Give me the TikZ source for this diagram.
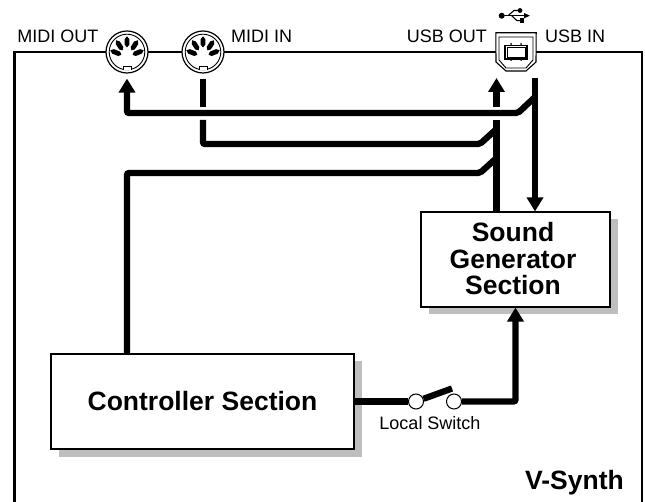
\documentclass[tikz,border=0pt]{standalone}
\usepackage{fontspec}
\setmainfont{Liberation Sans}
\usetikzlibrary{arrows.meta,shadows}
\definecolor{shadowgray}{RGB}{190,190,190}
\tikzset{
  sigline/.style={line width=6.3pt,rounded corners=2pt},
  sigarrow/.style={sigline,-{Triangle[length=14pt,width=16pt]}},
  sectionbox/.style={draw,fill=white,line width=1.1pt,inner sep=0pt,
    drop shadow={shadow xshift=7.5pt,shadow yshift=-7.5pt,fill=shadowgray,opacity=1}},
  boldtext/.style={font=\fontsize{26.5}{26.5}\selectfont\bfseries,align=center,inner sep=0pt},
  jacklabel/.style={font=\fontsize{18}{20}\selectfont,inner sep=0pt},
  switchpoint/.style={circle,draw,fill=white,line width=1pt,minimum size=15pt,inner sep=0pt}
}
% one DIN socket: position, node name
\newcommand{\midijack}[2]{
  \node[circle,draw,fill=white,line width=1.2pt,minimum size=42pt,inner sep=0pt] (#2) at (#1) {};
  \begin{scope}[shift={(#1)}]
    \draw[line width=0.9pt] (0,0) circle (17.8);
    \foreach \a/\ri/\ro in {0/9.7/20.7,33/8/20,-33/8/20,68/6/18,-68/6/18}
      \fill[shift={(0,5)},rotate=\a] (0,-\ri) -- (2.4,-\ri-2.5) -- (2.4,-\ro+3) -- (0,-\ro)
        -- (-2.4,-\ro+3) -- (-2.4,-\ri-2.5) -- cycle;
    \draw[fill=white,line width=0.9pt] (-4,18.4) -- (-4,14) -- (4,14) -- (4,18.4);
  \end{scope}
}
\begin{document}
\begin{tikzpicture}[x=1pt,y=-1pt]
  \useasboundingbox (0,0) rectangle (645,502);
  % outer case
  \draw[line width=2.4pt] (14.5,502) -- (14.5,52) -- (641.7,52) -- (641.7,502);

  % sockets
  \midijack{127,52}{midiout}
  \midijack{203,52}{midiin}
  \node[inner sep=0pt,minimum width=40pt,minimum height=38pt] (usbport) at (516,52) {};
  \draw[fill=white,line width=1.1pt] (usbport.north west) -- (usbport.north east) -- (536,62) -- (526,71)
    -- (506,71) -- (496,62) -- cycle;
  \draw[line width=0.9pt] (499,37) -- (533,37) -- (533,60) -- (526,68) -- (506,68) -- (499,60) -- cycle;
  \draw[line width=1.1pt] (505,45.5) rectangle (527,59);
  \draw[line width=0.7pt] (507,47.5) rectangle (525,57);
  \foreach \x in {511,521} {
    \fill (\x,44) circle (1);
    \fill (\x,60) circle (1);
  }

  % usb symbol
  \fill (501.7,15.7) circle (3);
  \draw[line width=1.1pt,-{Triangle[length=6pt,width=5pt]}] (501.7,15.7) -- (530,15.7);
  \draw[line width=1.1pt] (508,15.7) -- (514,10.5) -- (519,10.5);
  \fill (520,10.5) circle (2.4);
  \draw[line width=1.1pt] (511.7,15.7) -- (517,20.7) -- (520,20.7);
  \fill (519.5,18.5) rectangle (524,23);

  % labels
  \node[jacklabel,anchor=base east] (midioutlabel) at (98.5,43) {MIDI OUT};
  \node[jacklabel,anchor=base west] (midiinlabel) at (231,43) {MIDI IN};
  \node[jacklabel,anchor=base east] (usboutlabel) at (487,43) {USB OUT};
  \node[jacklabel,anchor=base west] (usbinlabel) at (545,43) {USB IN};

  % sections
  \node[sectionbox,minimum width=189pt,minimum height=95pt] (soundgen) at (515.5,259.5) {};
  \node[boldtext] (soundgentext) at (513,259) {Sound\\Generator\\Section};
  \node[sectionbox,boldtext,minimum width=303pt,minimum height=95pt] (controller) at (202.5,401.5) {Controller Section};
  \node[boldtext,anchor=base east] (vsynth) at (624,489) {V-Synth};

  % switch
  \node[switchpoint] (swa) at (416,401.5) {};
  \node[switchpoint] (swb) at (454,401.5) {};
  \coordinate (swblade) at (452,388.5);
  \node[jacklabel] (swlabel) at (430,423) {Local Switch};

  % signal ends
  \coordinate (usbin) at (535,78);
  \coordinate (usbinbus) at (535,97);
  \coordinate (usbout) at (496.5,78);
  \coordinate (usboutgap) at (496.5,107);
  \coordinate (usbbus) at (496.5,120);
  \coordinate (midibend) at (518,113);
  \coordinate (midiingap) at (203,107);
  \coordinate (midiinbus) at (203,120);

  % signal lines
  \draw[sigarrow] (usbin) -- (usbin |- soundgen.north);
  \draw[sigarrow] (usbinbus) -- (midibend) -| ([yshift=-5pt]midiout.south);
  \draw[sigarrow] (usboutgap) -- (usbout);
  \draw[sigline] (usbout |- soundgen.north) -- (usbbus);
  \draw[sigline] ([yshift=-5pt]midiin.south) -- (midiingap);
  \draw[sigline] (midiinbus) |- (480,144) -- (496.5,129);
  \draw[sigline] (midiout |- controller.north) |- (480,173) -- (496.5,158);
  \draw[sigline] (controller.east) -- (swa);
  \draw[sigline] (swa) -- (swblade);
  \draw[sigarrow] (swb) -| (soundgen.south);
\end{tikzpicture}
\end{document}
